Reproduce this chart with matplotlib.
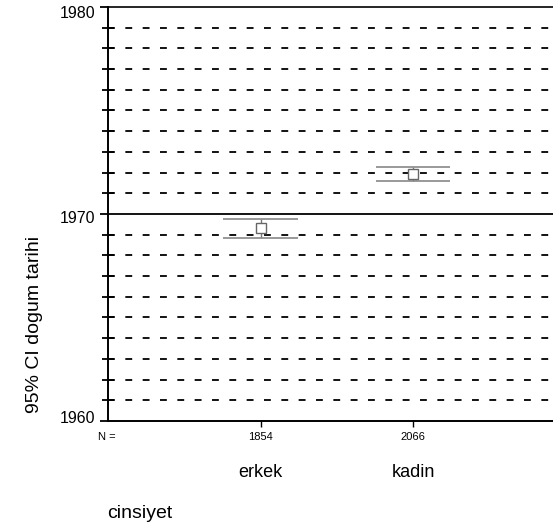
import numpy as np
import matplotlib
matplotlib.use('Agg')
import matplotlib.pyplot as plt
from matplotlib.transforms import blended_transform_factory, ScaledTranslation

# SPSS style 95% CI error bar chart, dogum tarihi by cinsiyet
categories = ['erkek', 'kadin']
counts = [1854, 2066]
means = [1969.3, 1971.95]
ci_low = [1968.82, 1971.61]
ci_high = [1969.78, 1972.29]

yticks_major = [1960, 1970, 1980]

plt.rcParams['font.family'] = ['Liberation Sans', 'DejaVu Sans']

fig = plt.figure(figsize=(5.53, 5.27), dpi=100)
ax = fig.add_axes([108 / 553, 1 - 421 / 527, 1 - 108 / 553, 414 / 527])

x = np.arange(1, len(categories) + 1)
ax.set_xlim(0, 445 / 152.5)
ax.set_ylim(1960, 1980)

# dashed gridlines every year, solid at 1970
for yr in range(1961, 1980):
    if yr in yticks_major:
        ax.axhline(yr, color='black', lw=1.3, zorder=1)
    else:
        ax.axhline(yr, color='black', lw=1.3, ls=(0, (3.8, 5.8)), zorder=1)

# error bars
cap_w = 0.245
ax.vlines(x, ci_low, ci_high, color='#777777', lw=1.0, zorder=3)
ax.hlines(ci_high, x - cap_w, x + cap_w, color='#888888', lw=1.2, zorder=3)
ax.hlines(ci_low, x - cap_w, x + cap_w, color='#888888', lw=1.2, zorder=3)
ax.plot(x, means, 's', ms=7, mfc='white', mec='#666666', mew=1.0, zorder=4)

# axes styling
ax.spines['right'].set_visible(False)
ax.spines['top'].set_linewidth(1.2)
for s in ['left', 'bottom']:
    ax.spines[s].set_linewidth(1.4)
ax.set_yticks(yticks_major)
ax.set_yticklabels([str(v) for v in yticks_major], fontsize=11.5)
ax.set_yticks(range(1961, 1980), minor=True)
ax.tick_params(axis='y', which='major', direction='out', length=6, width=1.3, pad=3)
ax.tick_params(axis='y', which='minor', direction='inout', length=8, width=1.3)
ax.set_xticks(x)
ax.set_xticklabels([])
ax.tick_params(axis='x', direction='out', length=4, width=1.0)

# the scanned labels sit slightly inside the axis range
shifts = {'1960': 4, '1970': -3, '1980': -5}
for lab in ax.get_yticklabels():
    dy = shifts.get(lab.get_text(), 0)
    lab.set_transform(lab.get_transform() + ScaledTranslation(0, dy / 100, fig.dpi_scale_trans))

trans = blended_transform_factory(ax.transData, ax.transAxes)
for xi, n, cat in zip(x, counts, categories):
    ax.text(xi, -0.039, str(n), transform=trans, ha='center', va='center', fontsize=8)
    ax.text(xi, -0.125, cat, transform=trans, ha='center', va='center', fontsize=13)

fig.text(107 / 553, 1 - 437 / 527, 'N =', ha='center', va='center', fontsize=8)
fig.text(107 / 553, 1 - 513 / 527, 'cinsiyet', ha='left', va='center', fontsize=14)
fig.text(35 / 553, 1 - 324 / 527, '95% CI dogum tarihi', rotation=90,
         ha='center', va='center', fontsize=14)

fig.savefig('out.png', dpi=100)
